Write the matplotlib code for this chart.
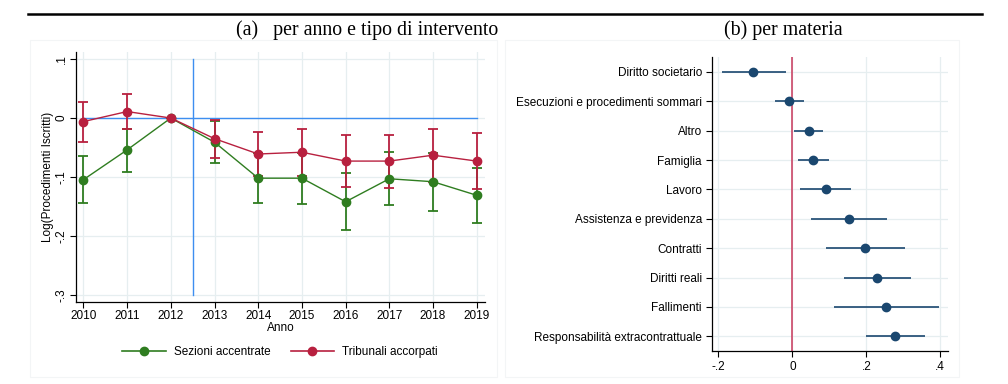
import matplotlib
matplotlib.use("Agg")
import matplotlib.pyplot as plt
from matplotlib.patches import Rectangle
from matplotlib.lines import Line2D

# ---------------- data ----------------
years = [2010, 2011, 2012, 2013, 2014, 2015, 2016, 2017, 2018, 2019]

sez_coef = [-0.1045, -0.054, 0.0, -0.041, -0.102, -0.102, -0.142, -0.103, -0.108, -0.131]
sez_lo = [-0.144, -0.0915, 0.0, -0.076, -0.144, -0.145, -0.190, -0.147, -0.157, -0.178]
sez_hi = [-0.065, -0.018, 0.0, -0.005, -0.060, -0.059, -0.094, -0.058, -0.060, -0.084]

trib_coef = [-0.006, 0.011, 0.0, -0.035, -0.061, -0.058, -0.073, -0.073, -0.063, -0.073]
trib_lo = [-0.040, -0.018, 0.0, -0.067, -0.098, -0.098, -0.117, -0.118, -0.108, -0.121]
trib_hi = [0.028, 0.040, 0.0, -0.003, -0.024, -0.019, -0.028, -0.028, -0.018, -0.026]

yticks_a = [0.1, 0.0, -0.1, -0.2, -0.3]
yticklabels_a = [".1", "0", "-.1", "-.2", "-.3"]

materie = ["Diritto societario", "Esecuzioni e procedimenti sommari", "Altro",
           "Famiglia", "Lavoro", "Assistenza e previdenza", "Contratti",
           "Diritti reali", "Fallimenti", "Responsabilità extracontrattuale"]
mat_coef = [-0.1054, -0.008, 0.044, 0.057, 0.090, 0.153, 0.197, 0.230, 0.254, 0.278]
mat_lo = [-0.191, -0.047, 0.0045, 0.0144, 0.0207, 0.050, 0.091, 0.139, 0.113, 0.199]
mat_hi = [-0.018, 0.0315, 0.084, 0.099, 0.159, 0.257, 0.3045, 0.322, 0.3955, 0.3586]

xticks_b = [-0.2, 0.0, 0.2, 0.4]
xticklabels_b = ["-.2", "0", ".2", ".4"]

# ---------------- style ----------------
GREEN = "#2f7d20"
RED = "#b8203f"
BLUE = "#3d8ef0"
NAVY = "#1a476f"
GRID = "#e6eef0"
SANS = "Liberation Sans"
SERIF = "Liberation Serif"

W, H = 1008, 384
fig = plt.figure(figsize=(W / 100, H / 100), dpi=100)

def fx(px):
    return px / W

def fy(py):
    return 1 - py / H

# header line and titles
fig.add_artist(Line2D([fx(28), fx(982)], [fy(14.3), fy(14.3)], color="black", lw=1.8))
fig.text(fx(367), fy(30), "(a)   per anno e tipo di intervento", family=SERIF,
         fontsize=14.3, ha="center", va="center")
fig.text(fx(783), fy(30), "(b) per materia", family=SERIF,
         fontsize=14.3, ha="center", va="center")

# faint graph-region boxes
fig.add_artist(Rectangle((fx(30), fy(377)), fx(497) - fx(30), fy(40) - fy(377),
                         fill=False, ec="#f3f5f6", lw=0.8))
fig.add_artist(Rectangle((fx(505), fy(377)), fx(959) - fx(505), fy(40) - fy(377),
                         fill=False, ec="#f3f5f6", lw=0.8))

# ---------------- panel (a) ----------------
axa = fig.add_axes([fx(76), fy(302), fx(485) - fx(76), fy(52) - fy(302)])
axa.set_xlim(2009.83, 2019.19)
axa.set_ylim(-0.312, 0.112)
for s in ["top", "right"]:
    axa.spines[s].set_visible(False)
for s in ["left", "bottom"]:
    axa.spines[s].set_linewidth(0.9)
axa.set_xticks(years)
axa.set_xticklabels([str(y) for y in years], family=SANS, fontsize=8.5)
axa.set_yticks(yticks_a)
axa.set_yticklabels(yticklabels_a, family=SANS, fontsize=8.5, rotation=90, va="center")
axa.tick_params(axis="x", length=4, width=0.8, pad=2)
axa.tick_params(axis="y", length=4, width=0.8, pad=2)
axa.grid(True, color=GRID, lw=0.9)
axa.set_axisbelow(True)

axa.plot([years[0], years[-1]], [0, 0], color=BLUE, lw=1.0, zorder=2)
axa.plot([2012.5, 2012.5], [-0.3, 0.1], color=BLUE, lw=1.0, zorder=2)

for coef, lo, hi, col in [(sez_coef, sez_lo, sez_hi, GREEN),
                          (trib_coef, trib_lo, trib_hi, RED)]:
    yerr = [[c - l for c, l in zip(coef, lo)], [h - c for c, h in zip(coef, hi)]]
    axa.errorbar(years, coef, yerr=yerr, fmt="none", ecolor=col, elinewidth=1.3,
                 capsize=3.5, capthick=1.3, zorder=3)
    axa.plot(years, coef, color=col, lw=1.0, marker="o", markersize=6, zorder=4)

axa.set_xlabel("Anno", family=SANS, fontsize=8.5, labelpad=0)
axa.set_ylabel("Log(Procedimenti Iscritti)", family=SANS, fontsize=8.5, labelpad=1)

handles = [Line2D([], [], color=GREEN, lw=1.2, marker="o", markersize=6),
           Line2D([], [], color=RED, lw=1.2, marker="o", markersize=6)]
fig.legend(handles, ["Sezioni accentrate", "Tribunali accorpati"], loc="center",
           bbox_to_anchor=(fx(280), fy(352)), ncol=2, frameon=False,
           prop={"family": SANS, "size": 8.5}, handlelength=3.7,
           handletextpad=0.7, columnspacing=1.7)

# ---------------- panel (b) ----------------
axb = fig.add_axes([fx(711.7), fy(351), fx(947.7) - fx(711.7), fy(57.3) - fy(351)])
n = len(materie)
ypos = list(range(n))
axb.set_ylim(n - 0.5, -0.5)
axb.set_xlim(-0.218, 0.42)
for s in ["top", "right"]:
    axb.spines[s].set_visible(False)
for s in ["left", "bottom"]:
    axb.spines[s].set_linewidth(0.9)
axb.set_yticks(ypos)
axb.set_yticklabels(materie, family=SANS, fontsize=8.5)
axb.set_xticks(xticks_b)
axb.set_xticklabels(xticklabels_b, family=SANS, fontsize=8.5)
axb.tick_params(axis="both", length=4, width=0.8, pad=3)
axb.grid(True, color=GRID, lw=0.9)
axb.set_axisbelow(True)

axb.axvline(0, color="#c8375a", lw=1.1, zorder=2)
axb.hlines(ypos, mat_lo, mat_hi, color=NAVY, lw=1.2, zorder=3)
axb.plot(mat_coef, ypos, "o", color=NAVY, markersize=6, zorder=4)

fig.savefig("out.png", dpi=100)
